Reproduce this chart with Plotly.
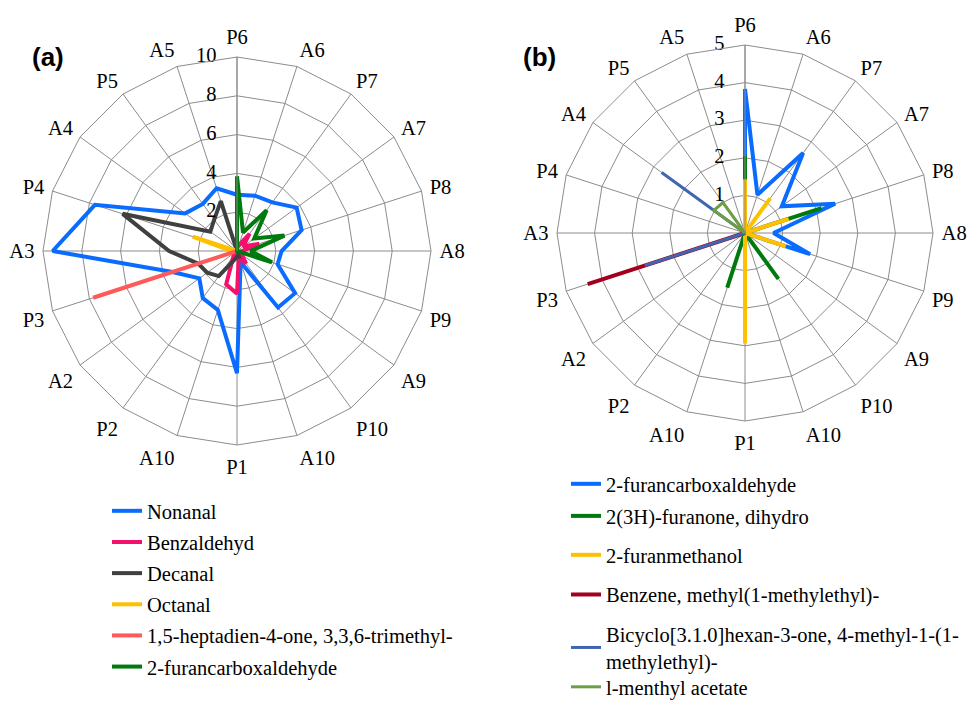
import plotly.graph_objects as go

# ---------------- data ----------------
categories = ["P6", "A6", "P7", "A7", "P8", "A8", "P9", "A9", "P10", "A10",
              "P1", "A10", "P2", "A2", "P3", "A3", "P4", "A4", "P5", "A5"]

# panel (a)
nonanal      = [2.9, 3.0, 3.1, 3.8, 3.5, 2.3, 2.2, 3.7, 3.6, 0.6, 6.3, 3.2, 3.0, 2.4, 3.5, 9.5, 7.7, 3.3, 3.0, 3.4]
benzaldehyd  = [0.2, 0.3, 1.1, 0.4, 1.2, 0.3, 0.4, 0.3, 0.8, 0.3, 2.2, 1.8, 0.3, 0.0, 0.0, 0.0, 0.0, 0.0, 0.0, 0.0]
decanal      = [0.0, 0.0, 0.0, 0.0, 0.0, 0.0, 0.0, 0.0, 0.0, 0.3, 0.3, 0.5, 1.6, 1.9, 2.1, 3.5, 6.2, 1.7, 2.0, 2.7]
octanal      = [0.0, 0.0, 0.0, 0.0, 0.0, 0.0, 0.0, 0.0, 0.0, 0.0, 0.0, 0.0, 0.0, 0.0, 0.0, 0.3, 2.4, 0.0, 0.0, 0.0]
heptadienone = [0.0, 0.0, 0.0, 0.0, 0.0, 0.0, 0.0, 0.0, 0.0, 0.0, 0.0, 0.0, 0.0, 0.0, 7.8, 0.0, 0.0, 0.0, 0.0, 0.0]
furancarb_a  = [3.85, 1.0, 2.6, 1.1, 2.57, 0.7, 1.9, 0.0, 0.0, 0.0, 0.0, 0.0, 0.0, 0.0, 0.0, 0.0, 0.0, 0.0, 0.0, 0.0]

# panel (b)
furancarb_b  = [3.83, 1.07, 2.63, 1.21, 2.52, 0.76, 1.82, 0.0, 0.0, 0.0, 0.0, 0.0, 0.0, 0.0, 0.0, 0.0, 0.0, 0.0, 0.0, 0.0]
furanone     = [2.04, 0.0, 0.0, 0.0, 2.14, 0.0, 0.0, 0.0, 1.51, 0.0, 0.0, 1.53, 0.0, 0.0, 0.0, 0.0, 0.0, 0.0, 0.0, 0.0]
furanmethanol= [1.43, 0.0, 1.14, 0.0, 1.22, 0.0, 1.14, 0.0, 0.0, 0.0, 2.94, 0.0, 0.0, 0.0, 0.0, 0.0, 0.0, 0.0, 0.0, 0.0]
benzene_mme  = [0.0, 0.0, 0.0, 0.0, 0.0, 0.0, 0.0, 0.0, 0.0, 0.0, 0.0, 0.0, 0.0, 0.0, 4.4, 0.0, 0.0, 0.0, 0.0, 0.0]
bicyclo      = [0.0, 0.0, 0.0, 0.0, 0.0, 0.0, 0.0, 0.0, 0.0, 0.0, 0.0, 0.0, 0.0, 0.0, 2.8, 0.0, 0.0, 2.74, 0.0, 0.0]
menthyl      = [0.0, 0.0, 0.0, 0.0, 0.0, 0.0, 0.0, 0.0, 0.0, 0.0, 0.0, 0.0, 0.0, 0.0, 0.0, 0.0, 0.0, 1.02, 1.0, 0.0]

radial_ticks_a = [0, 2, 4, 6, 8, 10]
radial_ticks_b = [0, 1, 2, 3, 4, 5]

# (name, values, colour, width, legend)
series_a = [
    ("Nonanal", nonanal, "#0A6CFF", 4, "legend"),
    ("Benzaldehyd", benzaldehyd, "#F5116B", 4, "legend"),
    ("Decanal", decanal, "#404040", 4, "legend"),
    ("Octanal", octanal, "#FFC000", 4, "legend"),
    ("1,5-heptadien-4-one, 3,3,6-trimethyl-", heptadienone, "#FF5A5A", 4, "legend"),
    ("2-furancarboxaldehyde", furancarb_a, "#007A0C", 4, "legend"),
]
series_b = [
    ("2-furancarboxaldehyde", furancarb_b, "#0A6CFF", 4, "legend2"),
    ("2(3H)-furanone, dihydro", furanone, "#007A0C", 4, "legend2"),
    ("2-furanmethanol", furanmethanol, "#FFC000", 4, "legend3"),
    ("Benzene, methyl(1-methylethyl)-", benzene_mme, "#A3001F", 4, "legend3"),
    ("Bicyclo[3.1.0]hexan-3-one, 4-methyl-1-(1-<br>methylethyl)-", bicyclo, "#3F66B0", 3, "legend3"),
    ("l-menthyl acetate", menthyl, "#6B9E45", 3, "legend4"),
]

# unique keys for the duplicated category label
keys, seen = [], {}
for c in categories:
    n = seen.get(c, 0)
    keys.append(c + "\u200b" * n)
    seen[c] = n + 1

W, H = 970, 701


def px(x):
    return x / W


def py(y):
    return 1 - y / H


SERIF = "Liberation Serif"
FS = 20.5
GRID = "#8C8C8C"
CLEAR = "rgba(0,0,0,0)"

fig = go.Figure()
for i, (name, vals, col, w, lg) in enumerate(series_a):
    fig.add_trace(go.Scatterpolar(
        r=vals + vals[:1], theta=keys + keys[:1], mode="lines", name=name,
        line=dict(color=col, width=w), subplot="polar", legend=lg,
        legendgroup="a%d" % i))
for i, (name, vals, col, w, lg) in enumerate(series_b):
    fig.add_trace(go.Scatterpolar(
        r=vals + vals[:1], theta=keys + keys[:1], mode="lines", name=name,
        line=dict(color=col, width=w), subplot="polar2", legend=lg,
        legendgroup="b%d" % i))

# radial value labels, placed left of the P6 spoke
for sub, ticks in (("polar", radial_ticks_a), ("polar2", radial_ticks_b)):
    fig.add_trace(go.Scatterpolar(
        r=ticks, theta=[keys[0]] * len(ticks), mode="text",
        text=[str(t) + "\u2003" for t in ticks], textposition="middle left",
        textfont=dict(family=SERIF, size=FS, color="black"), cliponaxis=False,
        showlegend=False, hoverinfo="skip", subplot=sub))


def polar_cfg(dom_x, dom_y, rng, ticks, alen):
    return dict(
        domain=dict(x=dom_x, y=dom_y),
        gridshape="linear",
        bgcolor="white",
        radialaxis=dict(range=rng, tickvals=ticks, angle=90,
                        showline=True, linecolor=GRID, linewidth=1,
                        gridcolor=GRID, gridwidth=1, ticks="",
                        showticklabels=False),
        angularaxis=dict(rotation=90, direction="clockwise", type="category",
                         categoryorder="array", categoryarray=keys,
                         showline=True, linecolor=GRID, linewidth=1,
                         gridcolor=GRID, gridwidth=1,
                         ticks="outside", ticklen=alen, tickcolor=CLEAR,
                         tickfont=dict(family=SERIF, size=FS, color="black")),
    )


def legend_cfg(x_text, y_top, gap):
    return dict(x=px(x_text - 41), y=py(y_top), xanchor="left", yanchor="top",
                font=dict(family=SERIF, size=FS, color="black"),
                bgcolor=CLEAR, traceorder="grouped", tracegroupgap=gap)


fig.update_layout(
    width=W, height=H,
    margin=dict(l=0, r=0, t=0, b=0, autoexpand=False),
    paper_bgcolor="white", plot_bgcolor="white",
    polar=polar_cfg([px(43), px(431)], [py(445), py(57)], [0, 10], radial_ticks_a, 4),
    polar2=polar_cfg([px(557), px(933)], [py(421), py(45)], [0, 5], radial_ticks_b, 4),
    legend=legend_cfg(148, 491, 1.5),
    legend2=legend_cfg(607, 464, 2.4),
    legend3=legend_cfg(607, 535, 10),
    legend4=legend_cfg(607, 667, 1),
    annotations=[
        dict(text="<b>(a)</b>", x=px(30), y=py(57), xref="paper", yref="paper",
             xanchor="left", yanchor="middle", showarrow=False,
             font=dict(family="Liberation Sans", size=26, color="black")),
        dict(text="<b>(b)</b>", x=px(521), y=py(57), xref="paper", yref="paper",
             xanchor="left", yanchor="middle", showarrow=False,
             font=dict(family="Liberation Sans", size=26, color="black")),
    ],
)

fig.write_html("out.html",
               config={"displayModeBar": False},
               post_script="document.body.style.margin='0px';"
                           "document.body.style.overflow='hidden';")
